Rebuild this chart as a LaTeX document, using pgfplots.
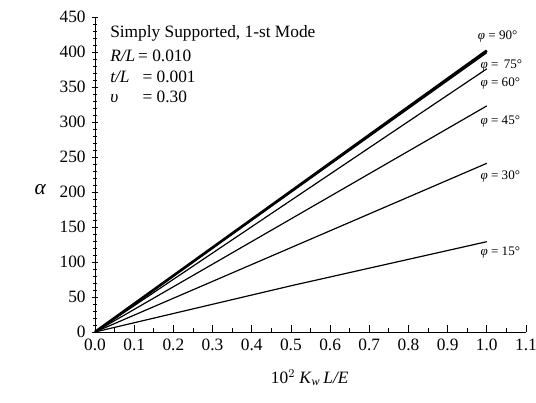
\documentclass[border=0pt]{standalone}
\usepackage{fontspec}
\setmainfont{Liberation Serif}
\usepackage{pgfplots}
\pgfplotsset{compat=1.18}
\begin{document}
\begin{tikzpicture}[x=1pt,y=1pt]
\useasboundingbox (-71.25,-53.25) rectangle (330.75,249);
\begin{axis}[
  at={(0,0)}, anchor=south west,
  scale only axis, width=323.25pt, height=236.25pt,
  xmin=0, xmax=1.1, ymin=0, ymax=450,
  axis lines=left, axis line style={-, line width=0.6pt},
  xtick={0,0.1,...,1.1}, ytick={0,50,...,450},
  minor x tick num=1, minor y tick num=4,
  xticklabel style={yshift=-2pt, /pgf/number format/.cd, fixed, fixed zerofill, precision=1},
  yticklabel style={xshift=-1pt},
  /pgf/number format/assume math mode=true,
  tick label style={font=\fontsize{13}{15}\selectfont},
  xtick align=inside, ytick align=center,
  major tick length=5pt, minor tick length=3pt,
  tick style={black, line width=0.6pt},
  clip=false,
]
\addplot[black, line width=0.9pt] coordinates {(0,0) (1.0,399)};
\addplot[black, line width=2.0pt] coordinates {(0,0) (1.0,402)};
\addplot[black, line width=0.9pt] coordinates {(0,0) (1.0,376)};
\addplot[black, line width=0.9pt] coordinates {(0,0) (1.0,323)};
\addplot[black, line width=0.9pt] coordinates {(0,0) (1.0,241)};
\addplot[black, line width=0.9pt] coordinates {(0,0) (0.5,66) (1.0,129)};
\end{axis}
\begin{scope}[every node/.style={font=\fontsize{9.8}{11}\selectfont, anchor=west, inner sep=0pt}]
\node at (287,221.25) {\textit{φ} = 90°};
\node at (289,199.5) {\textit{φ} = \,75°};
\node at (289,186) {\textit{φ} = 60°};
\node at (289,157.5) {\textit{φ} = 45°};
\node at (289,116.25) {\textit{φ} = 30°};
\node at (289,59.25) {\textit{φ} = 15°};
\end{scope}
\node[anchor=west, inner sep=0pt, font=\fontsize{13}{15}\selectfont] at (11.25,224.25) {Simply Supported, 1-st Mode};
\node[anchor=north west, inner sep=0pt, font=\fontsize{13}{15.5}\selectfont] at (11.25,214) {%
\begin{tabular}{@{}l@{\,}l@{}}
\textit{R/L} & = 0.010\\
\textit{t/L} & \ = 0.001\\
\textit{υ} & \ = 0.30
\end{tabular}};
\node[font=\fontsize{16}{18}\selectfont] at (-41,106.5) {\textit{α}};
\node[font=\fontsize{13}{15}\selectfont] at (161,-34.5) {10$^{2}$ \textit{K}$_{\mathit{w}}$\,\textit{L/E}};
\end{tikzpicture}
\end{document}
